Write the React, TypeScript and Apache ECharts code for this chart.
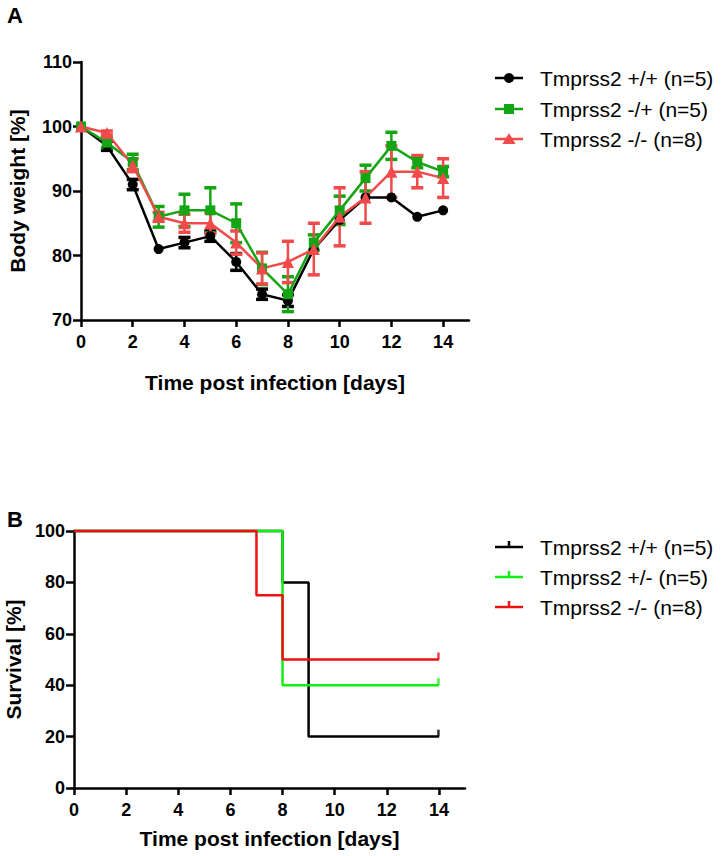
import React, { useEffect, useRef } from "react";
import * as echarts from "echarts";

const FONT = '"Liberation Sans", Arial, Helvetica, sans-serif';

// ---- Panel A: body weight ----
const days = [0, 1, 2, 3, 4, 5, 6, 7, 8, 9, 10, 11, 12, 13, 14];
const wtNames = ["Tmprss2 +/+ (n=5)", "Tmprss2 -/+ (n=5)", "Tmprss2 -/- (n=8)"];
const wtPlusPlusMean = [100, 97, 91, 81, 82, 83, 79, 74, 73, 81, 85.5, 89, 89, 86, 87];
const wtPlusPlusSem = [0, 0.7, 0.8, 0, 0.8, 0.8, 1.3, 0.8, 0.9, 0, 0, 0, 0, 0, 0];
const wtMinusPlusMean = [100, 97.5, 94.5, 86, 87, 87, 85, 78, 74, 82, 87, 92, 97, 94.5, 93];
const wtMinusPlusSem = [0, 0.8, 1.2, 1.6, 2.5, 3.5, 3, 2.5, 2.7, 1.2, 2.2, 2, 2.1, 0.9, 0.8];
const wtMinusMinusMean = [100, 99, 94, 86, 85, 85, 82, 78, 79, 81, 86, 89, 93, 93, 92];
const wtMinusMinusSem = [0, 0.3, 1, 0.7, 1.4, 1.6, 1.8, 2.4, 3.2, 4, 4.5, 4, 4, 2.5, 3];
const xTicks = [0, 2, 4, 6, 8, 10, 12, 14];

// ---- Panel B: survival ----
const survNames = ["Tmprss2 +/+ (n=5)", "Tmprss2 +/- (n=5)", "Tmprss2 -/- (n=8)"];
const survPlusPlusTimes = [0, 8, 9, 14];
const survPlusPlusValues = [100, 80, 20, 20];
const survPlusMinusTimes = [0, 8, 14];
const survPlusMinusValues = [100, 40, 40];
const survMinusMinusTimes = [0, 7, 8, 14];
const survMinusMinusValues = [100, 75, 50, 50];

const weightGroups = [
  { name: wtNames[0], mean: wtPlusPlusMean, sem: wtPlusPlusSem, color: "#000000", symbol: "circle", size: 10 },
  { name: wtNames[1], mean: wtMinusPlusMean, sem: wtMinusPlusSem, color: "#14a514", symbol: "rect", size: 10 },
  { name: wtNames[2], mean: wtMinusMinusMean, sem: wtMinusMinusSem, color: "#f04a4a", symbol: "triangle", size: 12 },
];

const survGroups = [
  { name: survNames[0], t: survPlusPlusTimes, v: survPlusPlusValues, color: "#000000" },
  { name: survNames[1], t: survPlusMinusTimes, v: survPlusMinusValues, color: "#12ee12" },
  { name: survNames[2], t: survMinusMinusTimes, v: survMinusMinusValues, color: "#ee1111" },
];

export default function App() {
  const ref = useRef<HTMLDivElement>(null);
  useEffect(() => {
    if (!ref.current) return;
    const chart = echarts.init(ref.current, null, { renderer: "svg" });

    const axisLineStyle = { color: "#000", width: 2.5 };
    const tickLabel = { color: "#000", fontSize: 18, fontWeight: "bold" as const, fontFamily: FONT };
    const nameStyle = { color: "#000", fontSize: 21, fontWeight: "bold" as const, fontFamily: FONT };

    const series: any[] = [];
    weightGroups.forEach((g) => {
      const errData = days
        .map((d, i) => [d, g.mean[i] - g.sem[i], g.mean[i] + g.sem[i], g.sem[i]])
        .filter((r) => r[3] > 0);
      series.push({
        type: "custom",
        xAxisIndex: 0,
        yAxisIndex: 0,
        encode: { x: 0, y: [1, 2] },
        data: errData,
        renderItem: (_p: any, api: any) => {
          const x = api.value(0);
          const lo = api.coord([x, api.value(1)]);
          const hi = api.coord([x, api.value(2)]);
          const w = 6;
          return {
            type: "group",
            children: [
              { type: "line", shape: { x1: lo[0], y1: lo[1], x2: hi[0], y2: hi[1] }, style: { stroke: g.color, lineWidth: 2.5 } },
              { type: "line", shape: { x1: lo[0] - w, y1: lo[1], x2: lo[0] + w, y2: lo[1] }, style: { stroke: g.color, lineWidth: 3.5 } },
              { type: "line", shape: { x1: hi[0] - w, y1: hi[1], x2: hi[0] + w, y2: hi[1] }, style: { stroke: g.color, lineWidth: 3.5 } },
            ],
          };
        },
      });
      series.push({
        type: "line",
        name: g.name,
        xAxisIndex: 0,
        yAxisIndex: 0,
        data: days.map((d, i) => [d, g.mean[i]]),
        symbol: g.symbol,
        symbolSize: g.size,
        showAllSymbol: true,
        clip: false,
        lineStyle: { color: g.color, width: 2.5 },
        itemStyle: { color: g.color },
      });
    });

    survGroups.forEach((g) => {
      series.push({
        type: "line",
        name: g.name,
        xAxisIndex: 1,
        yAxisIndex: 1,
        step: "end",
        data: g.t.map((t, i) => [t, g.v[i]]),
        symbol: "none",
        clip: false,
        lineStyle: { color: g.color, width: 2.5 },
      });
      const last = g.t.length - 1;
      series.push({
        type: "scatter",
        xAxisIndex: 1,
        yAxisIndex: 1,
        data: [[g.t[last], g.v[last]]],
        symbol: "rect",
        symbolSize: [2.5, 7],
        symbolOffset: [-0.5, -3.5],
        itemStyle: { color: g.color },
      });
    });

    const graphics: any[] = [
      { type: "text", x: 7, y: 15, style: { text: "A", fontSize: 22, fontWeight: "bold", fontFamily: FONT, fill: "#000", verticalAlign: "middle" } },
      { type: "text", x: 7, y: 519, style: { text: "B", fontSize: 22, fontWeight: "bold", fontFamily: FONT, fill: "#000", verticalAlign: "middle" } },
    ];
    const legAY = [78, 109, 139];
    weightGroups.forEach((g, i) => {
      const cy = legAY[i];
      graphics.push({ type: "line", shape: { x1: 495, y1: cy, x2: 523, y2: cy }, style: { stroke: g.color, lineWidth: 2.5 } });
      if (g.symbol === "circle") graphics.push({ type: "circle", shape: { cx: 509, cy, r: 5 }, style: { fill: g.color } });
      else if (g.symbol === "rect") graphics.push({ type: "rect", shape: { x: 504, y: cy - 5, width: 10, height: 10 }, style: { fill: g.color } });
      else graphics.push({ type: "polygon", shape: { points: [[509, cy - 6], [502.5, cy + 5], [515.5, cy + 5]] }, style: { fill: g.color } });
      graphics.push({ type: "text", x: 540, y: cy, style: { text: g.name, fontSize: 21, fontFamily: FONT, fill: "#000", verticalAlign: "middle" } });
    });
    const legBY = [547, 577, 607];
    survGroups.forEach((g, i) => {
      const cy = legBY[i];
      graphics.push({ type: "line", shape: { x1: 495, y1: cy, x2: 523, y2: cy }, style: { stroke: g.color, lineWidth: 2.5 } });
      graphics.push({ type: "line", shape: { x1: 509, y1: cy - 6, x2: 509, y2: cy }, style: { stroke: g.color, lineWidth: 2.5 } });
      graphics.push({ type: "text", x: 540, y: cy, style: { text: g.name, fontSize: 21, fontFamily: FONT, fill: "#000", verticalAlign: "middle" } });
    });

    chart.setOption({
      animation: false,
      backgroundColor: "#fff",
      grid: [
        { left: 81, top: 62, width: 388, height: 258, outerBoundsMode: "none" },
        { left: 74, top: 531, width: 391, height: 257, outerBoundsMode: "none" },
      ],
      xAxis: [0, 1].map((gi) => ({
        type: "value",
        gridIndex: gi,
        min: 0,
        max: 15,
        interval: 2,
        name: "Time post infection [days]",
        nameLocation: "middle",
        nameGap: gi === 0 ? 52 : 40,
        nameTextStyle: nameStyle,
        splitLine: { show: false },
        axisLine: { show: true, lineStyle: axisLineStyle, onZero: false },
        axisTick: { show: true, length: 7, lineStyle: { color: "#000", width: 2.5 }, customValues: xTicks },
        axisLabel: { ...tickLabel, margin: 13, customValues: xTicks },
      })),
      yAxis: [
        {
          type: "value",
          gridIndex: 0,
          min: 70,
          max: 110,
          interval: 10,
          name: "Body weight [%]",
          nameLocation: "middle",
          nameGap: 53,
          nameTextStyle: nameStyle,
          splitLine: { show: false },
          axisLine: { show: true, lineStyle: axisLineStyle, onZero: false },
          axisTick: { show: true, length: 8, lineStyle: { color: "#000", width: 2.5 } },
          axisLabel: { ...tickLabel, margin: 9 },
        },
        {
          type: "value",
          gridIndex: 1,
          min: 0,
          max: 100,
          interval: 20,
          name: "Survival [%]",
          nameLocation: "middle",
          nameGap: 48,
          nameTextStyle: nameStyle,
          splitLine: { show: false },
          axisLine: { show: true, lineStyle: axisLineStyle, onZero: false },
          axisTick: { show: true, length: 8, lineStyle: { color: "#000", width: 2.5 } },
          axisLabel: { ...tickLabel, margin: 9 },
        },
      ],
      series,
      graphic: graphics,
    });
    return () => chart.dispose();
  }, []);
  return (
    <div
      ref={ref}
      style={{ position: "fixed", left: 0, top: 0, width: 722, height: 856, background: "#fff" }}
    />
  );
}
